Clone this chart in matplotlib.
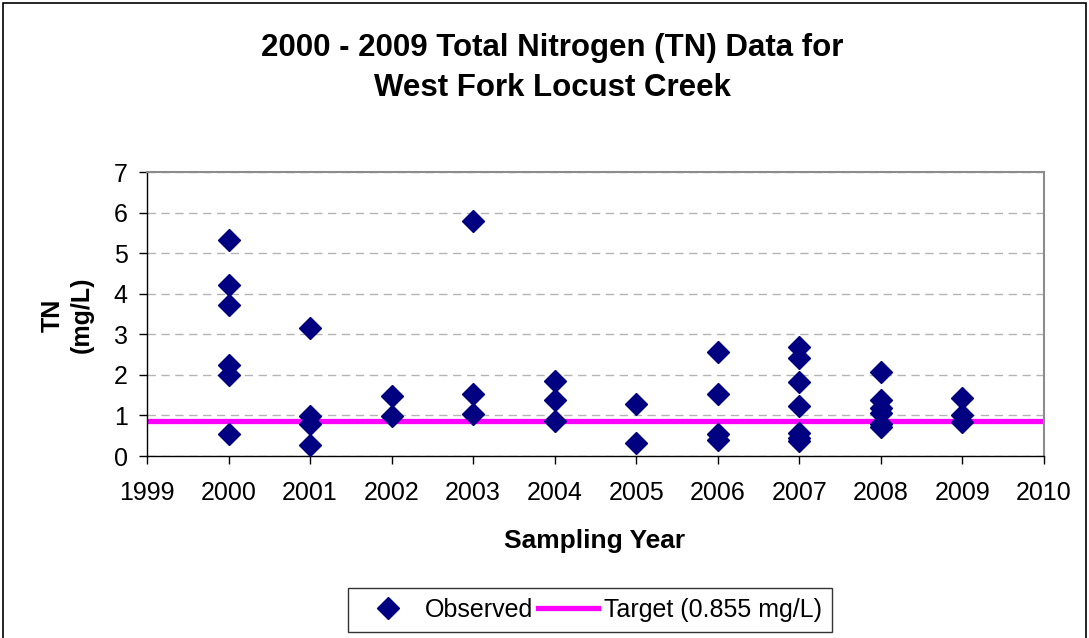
import matplotlib.pyplot as plt
from matplotlib.patches import Rectangle

plt.rcParams['font.family'] = ['Liberation Sans', 'DejaVu Sans']

# observed total nitrogen values (mg/L) by sampling year
years = [2000] * 6 + [2001] * 4 + [2002] * 2 + [2003] * 3 + [2004] * 3 + \
        [2005] * 2 + [2006] * 4 + [2007] * 7 + [2008] * 6 + [2009] * 3
tn = [5.33, 4.21, 3.71, 2.25, 2.0, 0.54,
      3.16, 0.98, 0.80, 0.28,
      1.48, 0.98,
      5.79, 1.52, 1.03,
      1.84, 1.38, 0.87,
      1.28, 0.32,
      2.57, 1.52, 0.54, 0.39,
      2.69, 2.42, 1.82, 1.23, 0.56, 0.45, 0.37,
      2.07, 1.38, 1.18, 1.05, 0.80, 0.72,
      1.42, 1.01, 0.84]
target = 0.855
xticks = list(range(1999, 2011))

fig = plt.figure(figsize=(10.89, 6.38), dpi=100)
ax = fig.add_axes([147 / 1089, 1 - 456 / 638, (1044 - 147) / 1089, (456 - 172) / 638])

# outer chart border
fig.patches.append(Rectangle((3 / 1089, -0.02), 1 - 6 / 1089, 1.02 - 3 / 638,
                             transform=fig.transFigure, fill=False,
                             edgecolor='black', linewidth=1.2))

ax.plot(years, tn, linestyle='none', marker='D', markersize=11,
        color='#000080', label='Observed', zorder=3)
ax.axhline(target, color='#ff00ff', linewidth=3.8, label='Target (0.855 mg/L)',
           zorder=2)

ax.set_xlim(1999, 2010)
ax.set_ylim(0, 7)
ax.set_xticks(xticks)
ax.set_yticks(range(0, 8))
ax.tick_params(labelsize=18, direction='out', length=6, width=1)
ax.tick_params(axis='x', pad=12)
ax.tick_params(axis='y', pad=8)
ax.grid(axis='y', linestyle=(0, (6, 4)), color='#b4b4b4', linewidth=1)
ax.set_axisbelow(True)

for side in ['top', 'right']:
    ax.spines[side].set_color('#8c8c8c')
    ax.spines[side].set_linewidth(1.5)
for side in ['left', 'bottom']:
    ax.spines[side].set_color('black')
    ax.spines[side].set_linewidth(1)

fig.text(552 / 1089, 1 - 68 / 638,
         "2000 - 2009 Total Nitrogen (TN) Data for\nWest Fork Locust Creek",
         ha='center', va='center', fontsize=22.5, fontweight='bold',
         linespacing=1.45)
fig.text(67 / 1089, 1 - 315 / 638, "TN\n(mg/L)", rotation=90, ha='center',
         va='center', fontsize=18, fontweight='bold', linespacing=1.25)
fig.text(595 / 1089, 1 - 541 / 638, "Sampling Year", ha='center', va='center',
         fontsize=19, fontweight='bold')

leg = fig.legend(loc='center', bbox_to_anchor=(590 / 1089, 1 - 610 / 638),
                 ncol=2, fontsize=18, frameon=True, fancybox=False,
                 edgecolor='black', handlelength=2.4, columnspacing=0.2,
                 handletextpad=0.25, borderpad=0.4)
leg.get_frame().set_linewidth(1)

fig.savefig("out.png", dpi=100)
